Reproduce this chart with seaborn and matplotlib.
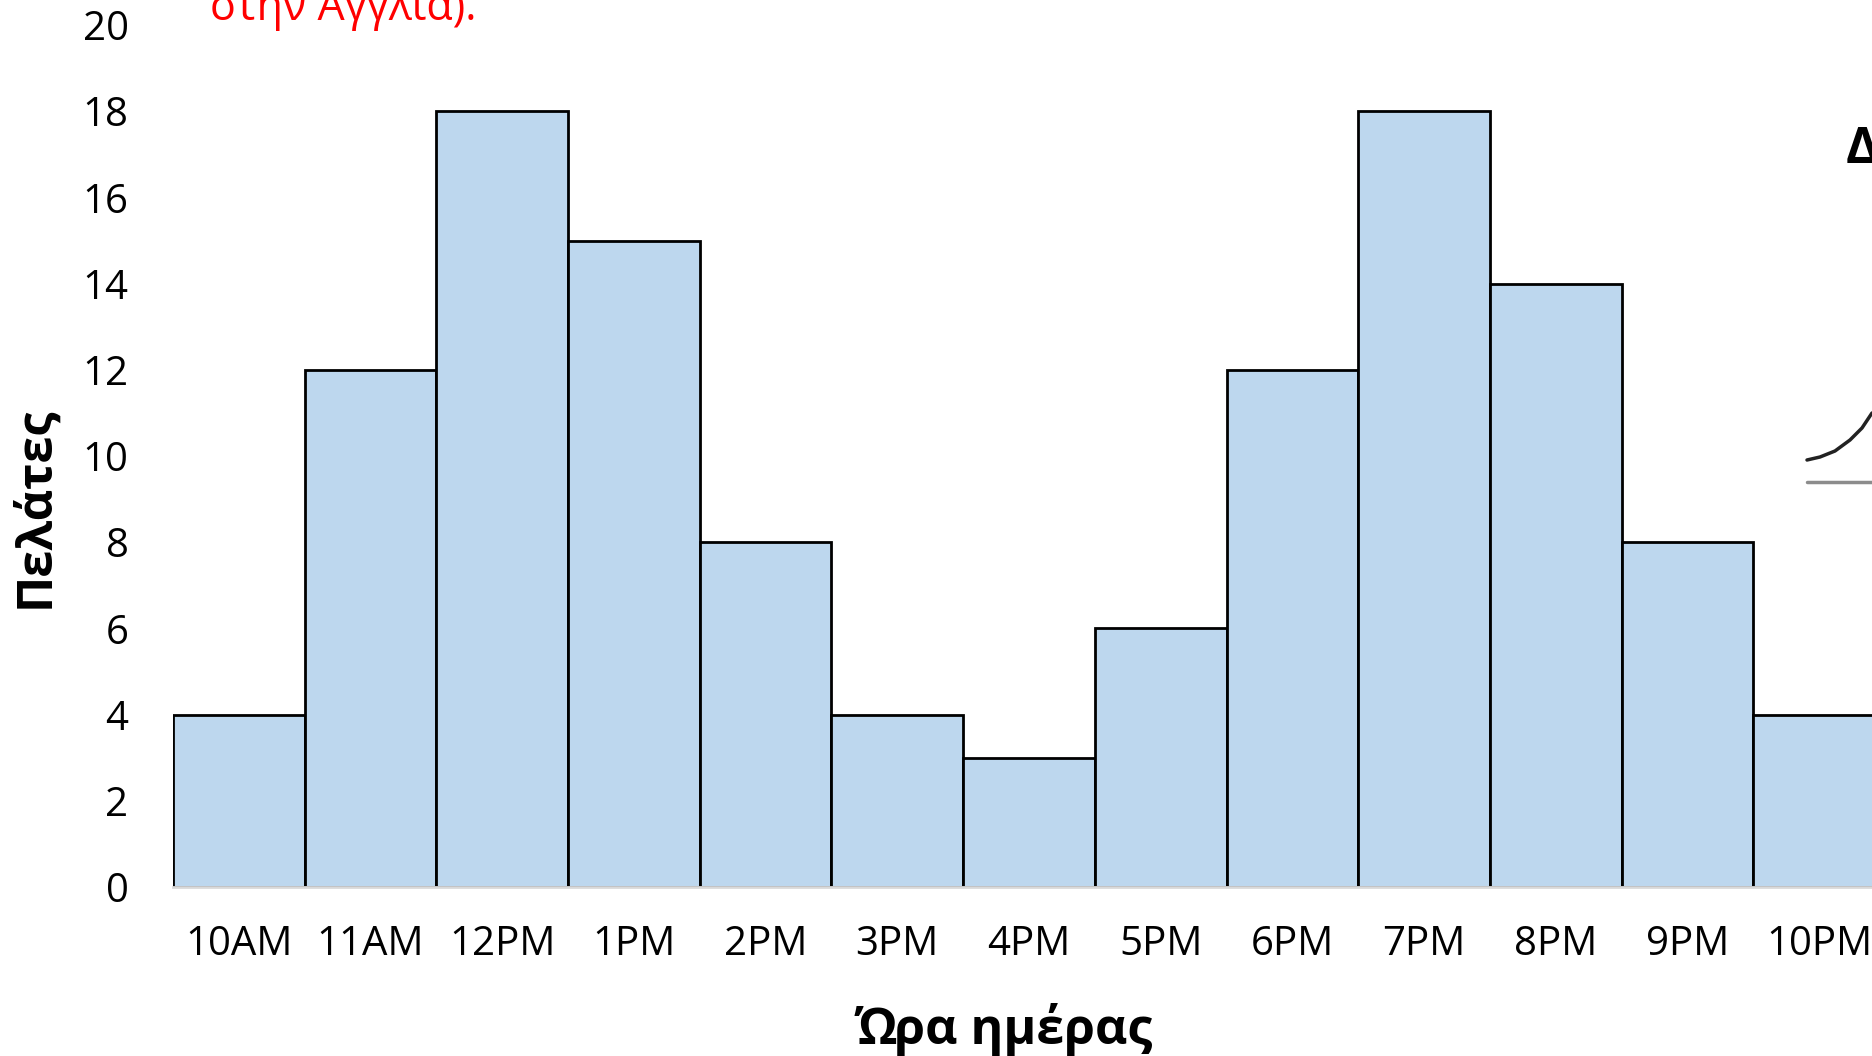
import matplotlib
matplotlib.use("Agg")
import matplotlib.pyplot as plt
import seaborn as sns
import pandas as pd
from matplotlib.lines import Line2D

hours = ["10AM", "11AM", "12PM", "1PM", "2PM", "3PM", "4PM", "5PM",
         "6PM", "7PM", "8PM", "9PM", "10PM"]
customers = [4, 12, 18, 15, 8, 4, 3, 6, 12, 18, 14, 8, 4]
y_ticks = [0, 2, 4, 6, 8, 10, 12, 14, 16, 18, 20]

sns.set_theme(style="white")
plt.rcParams['font.family'] = ['Open Sans', 'DejaVu Sans']

df = pd.DataFrame({"hour": hours, "customers": customers})

W, H = 1872, 1056
fig = plt.figure(figsize=(W / 100, H / 100), dpi=100)
left, right_px, bottom_px, top_px = 173, 1885, 887, 25
ax = fig.add_axes([left / W, 1 - bottom_px / H, (right_px - left) / W, (bottom_px - top_px) / H])

sns.barplot(data=df, x="hour", y="customers", ax=ax, width=1.0,
            color="#BDD7EE", edgecolor="black", linewidth=2, saturation=1)

ax.set_xlim(-0.5, len(hours) - 0.5)
ax.set_ylim(0, 20)
ax.set_yticks(y_ticks)
ax.set_yticklabels([str(t) for t in y_ticks])
for s in ["top", "right", "left"]:
    ax.spines[s].set_visible(False)
ax.spines["bottom"].set_color("#D9D9D9")
ax.spines["bottom"].set_linewidth(2)
ax.tick_params(axis="y", length=0, pad=32, labelsize=29, labelcolor="black")
ax.tick_params(axis="x", length=0, pad=27, labelsize=29, labelcolor="black")

ax.set_xlabel("Ώρα ημέρας", fontsize=36, fontweight="bold", color="black")
ax.set_ylabel("Πελάτες", fontsize=35, fontweight="bold", color="black")
ax.xaxis.set_label_coords((1004 - left) / (right_px - left), (bottom_px - 1029) / (bottom_px - top_px))
ax.yaxis.set_label_coords((36 - left) / (right_px - left), (bottom_px - 507) / (bottom_px - top_px))
ax.xaxis.label.set_verticalalignment("center")
ax.yaxis.label.set_verticalalignment("center")

# Slide decorations (partially visible text/shapes around the chart)
fig.text(210 / W, 1 - 20 / H, "στην Αγγλία).", color="red", fontsize=31,
         ha="left", va="baseline")
fig.text(1846 / W, 1 - 163 / H, "Δ", color="black", fontsize=36,
         fontweight="bold", ha="left", va="baseline")
fig.add_artist(Line2D([1807 / W, 1872 / W], [1 - 482 / H, 1 - 482 / H],
                      color="#8c8c8c", lw=2.5))
cx = [1807, 1820, 1835, 1850, 1862, 1872]
cy = [460, 457, 451, 440, 428, 413]
fig.add_artist(Line2D([x / W for x in cx], [1 - y / H for y in cy],
                      color="#222222", lw=2.5))

fig.savefig("out.png", dpi=100)
